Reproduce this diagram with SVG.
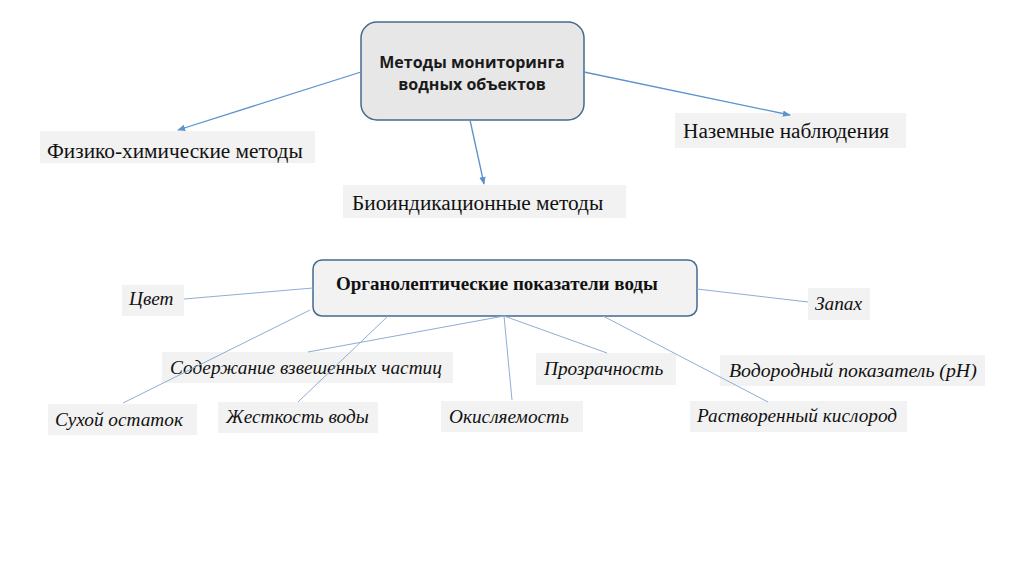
<svg xmlns="http://www.w3.org/2000/svg" width="1024" height="574" viewBox="0 0 1024 574">
<defs>
<style>
.main{fill:#e7e7e7;stroke:#44698f;stroke-width:1.5}
.sub{fill:#f2f2f2;stroke:#44698f;stroke-width:1.5}
.lbl{fill:#f2f2f2;stroke:none}
.t1{font-family:"Open Sans","Liberation Sans",sans-serif;font-weight:bold;font-size:16px;fill:#1a1a1a;text-anchor:middle}
.t2{font-family:"Liberation Serif",serif;font-size:21.3px;fill:#111}
.t3{font-family:"Liberation Serif",serif;font-weight:bold;font-size:19px;fill:#111}
.ti{font-family:"Liberation Serif",serif;font-style:italic;font-size:19.3px;fill:#111}
.arr{stroke:#5b93cf;stroke-width:1.3;fill:none;marker-end:url(#ah)}
.ln{stroke:#8eaed3;stroke-width:1;fill:none}
</style>
<marker id="ah" viewBox="0 0 10 10" refX="9" refY="5" markerWidth="8" markerHeight="8" orient="auto" markerUnits="userSpaceOnUse">
<path d="M0,1 L10,5 L0,9 Z" fill="#5b93cf"/>
</marker>
</defs>
<rect width="1024" height="574" fill="#fff"/>
<g id="n-main">
<rect class="main" x="361" y="22" width="223" height="98" rx="16"/>
<text class="t1" x="472" y="68">Методы мониторинга</text>
<text class="t1" x="472" y="90">водных объектов</text>
</g>
<g id="n-phys">
<rect class="lbl" x="40" y="131" width="275" height="32"/>
<text class="t2" x="47" y="158">Физико-химические методы</text>
</g>
<g id="n-bio">
<rect class="lbl" x="343" y="185" width="283" height="33"/>
<text class="t2" x="352" y="210">Биоиндикационные методы</text>
</g>
<g id="n-ground">
<rect class="lbl" x="675" y="113" width="231" height="35"/>
<text class="t2" x="683" y="138">Наземные наблюдения</text>
</g>
<g id="n-organo">
<rect class="sub" x="313" y="260" width="384" height="56" rx="9"/>
<text class="t3" x="336" y="290">Органолептические показатели воды</text>
</g>
<g id="n-color">
<rect class="lbl" x="122" y="285" width="62" height="31"/>
<text class="ti" x="129" y="305">Цвет</text>
</g>
<g id="n-smell">
<rect class="lbl" x="808" y="288" width="62" height="32"/>
<text class="ti" x="815" y="310">Запах</text>
</g>
<g id="n-susp">
<rect class="lbl" x="162" y="352" width="291" height="31"/>
<text class="ti" x="170" y="374">Содержание взвешенных частиц</text>
</g>
<g id="n-transp">
<rect class="lbl" x="536" y="353" width="140" height="32"/>
<text class="ti" x="544" y="375">Прозрачность</text>
</g>
<g id="n-ph">
<rect class="lbl" x="720" y="355" width="265" height="31"/>
<text class="ti" x="729" y="377" style="font-size:19.8px">Водородный показатель (pH)</text>
</g>
<g id="n-dry">
<rect class="lbl" x="48" y="404" width="149" height="31"/>
<text class="ti" x="55" y="426">Сухой остаток</text>
</g>
<g id="n-hard">
<rect class="lbl" x="218" y="402" width="160" height="31"/>
<text class="ti" x="226" y="423">Жесткость воды</text>
</g>
<g id="n-oxid">
<rect class="lbl" x="441" y="401" width="142" height="31"/>
<text class="ti" x="449" y="423">Окисляемость</text>
</g>
<g id="n-oxygen">
<rect class="lbl" x="690" y="401" width="217" height="31"/>
<text class="ti" x="697" y="422">Растворенный кислород</text>
</g>
<g id="connectors">
<line class="arr" x1="361" y1="72" x2="178" y2="130"/>
<line class="arr" x1="470" y1="120" x2="484" y2="184"/>
<line class="arr" x1="584" y1="72" x2="790" y2="115"/>
<line class="ln" x1="184" y1="299" x2="313" y2="288"/>
<line class="ln" x1="697" y1="289" x2="808" y2="302"/>
<line class="ln" x1="310" y1="310" x2="123" y2="403"/>
<line class="ln" x1="388" y1="316" x2="298" y2="402"/>
<line class="ln" x1="504" y1="316" x2="308" y2="352"/>
<line class="ln" x1="504" y1="316" x2="512" y2="400"/>
<line class="ln" x1="504" y1="316" x2="607" y2="353"/>
<line class="ln" x1="603" y1="316" x2="768" y2="402"/>
</g>
</svg>
